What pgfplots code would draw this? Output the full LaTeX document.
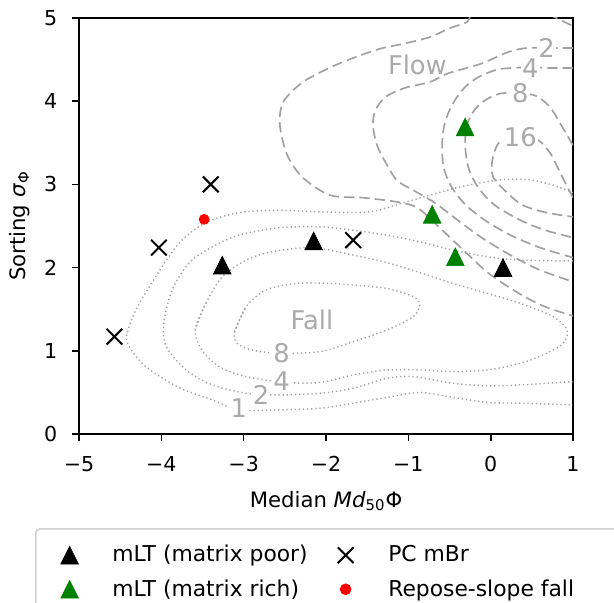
\documentclass[border=0pt]{standalone}
\usepackage{fontspec}
\setmainfont{DejaVu Sans}
\usepackage{pgfplots}
\pgfplotsset{compat=1.18}
\definecolor{cgray}{RGB}{160,160,160}
\definecolor{lgray}{RGB}{170,170,170}
\definecolor{mplgreen}{RGB}{0,128,0}
\definecolor{legframe}{RGB}{210,210,210}
\pgfdeclareplotmark{mpltri}{%
  \pgfpathmoveto{\pgfqpoint{0pt}{\pgfplotmarksize}}%
  \pgfpathlineto{\pgfqpoint{-\pgfplotmarksize}{-\pgfplotmarksize}}%
  \pgfpathlineto{\pgfqpoint{\pgfplotmarksize}{-\pgfplotmarksize}}%
  \pgfpathclose\pgfusepathqfillstroke}
\pgfplotsset{
  fallc/.style={cgray, line width=0.7pt, dash pattern=on 0.6pt off 1.4pt, smooth, tension=0.5, forget plot},
  flowc/.style={cgray, line width=0.8pt, dash pattern=on 5pt off 2.5pt, smooth, tension=0.5, forget plot},
}
\tikzset{clab/.style={text=lgray, fill=white, inner sep=0.6pt, font=\fontsize{12.5}{14}\selectfont}}
\begin{document}
\begin{tikzpicture}
\begin{axis}[
  scale only axis, width=239.79pt, height=201.93pt,
  xmin=-5, xmax=1, ymin=0, ymax=5,
  xtick={-5,-4,-3,-2,-1,0,1}, xticklabels={−5,−4,−3,−2,−1,0,1},
  ytick={0,1,2,3,4,5},
  xtick pos=bottom, ytick pos=left,
  tick align=outside, major tick length=3.5pt,
  every tick/.style={black, line width=0.8pt},
  axis line style={line width=0.8pt},
  /pgf/number format/assume math mode=true,
  tick label style={font=\fontsize{10}{12}\selectfont},
  xticklabel style={yshift=-3.8pt},
  yticklabel style={xshift=-3.5pt},
  label style={font=\fontsize{10.3}{12}\selectfont},
  xlabel={Median \textit{Md}\textsubscript{50}Φ},
  ylabel={Sorting \textit{σ}\textsubscript{Φ}},
  xlabel style={at={(axis description cs:0.5,-0.1755)}, anchor=base},
  ylabel style={at={(axis description cs:-0.109,0.5)}, anchor=base},
  legend columns=2,
  legend cell align=left,
  legend image code/.code={%
    \path (-16pt,0pt) (18.3pt,0pt);
    \draw[mark repeat=1] plot coordinates {(0pt,0pt)};
  },
  legend style={at={(axis description cs:-0.089,-0.226)}, anchor=north west,
    draw=legframe, rounded corners=2pt, line width=0.8pt,
    font=\fontsize{10.6}{12.5}\selectfont,
    /tikz/every even column/.append style={column sep=0pt},
    row sep=3pt, inner xsep=0pt, inner ysep=6pt},
]
\coordinate (SW) at (rel axis cs:0,0);
\coordinate (NE) at (rel axis cs:1,1);
% Fall contours (dotted)
\addplot[fallc] coordinates {(1.00,2.90) (0.76,2.99) (0.44,3.06) (0.08,3.05) (-0.37,2.97) (-0.74,2.87) (-1.06,2.78) (-1.47,2.67) (-2.07,2.67) (-2.57,2.69) (-3.06,2.66) (-3.46,2.54) (-3.78,2.30) (-4.07,1.89) (-4.31,1.49) (-4.42,1.19) (-4.39,1.05) (-4.19,0.81) (-3.79,0.56) (-3.38,0.41) (-3.06,0.29) (-2.56,0.29) (-2.07,0.31) (-1.67,0.37) (-1.26,0.44) (-0.86,0.50) (-0.46,0.44) (-0.04,0.38) (0.36,0.37) (1.00,0.35)};
\addplot[fallc] coordinates {(1.00,2.08) (0.36,2.09) (-0.04,2.13) (-0.46,2.21) (-0.86,2.31) (-1.26,2.39) (-1.67,2.45) (-2.07,2.49) (-2.57,2.48) (-3.06,2.39) (-3.38,2.25) (-3.66,2.06) (-3.87,1.73) (-3.97,1.33) (-3.94,1.05) (-3.70,0.77) (-3.38,0.59) (-2.97,0.49) (-2.56,0.47) (-2.07,0.49) (-1.67,0.55) (-1.26,0.67) (-0.94,0.69) (-0.46,0.61) (-0.04,0.58) (0.36,0.59) (1.00,0.63)};
\addplot[fallc] coordinates {(-3.59,1.25) (-3.46,1.57) (-3.26,1.89) (-2.97,2.09) (-2.66,2.19) (-2.17,2.24) (-1.67,2.15) (-1.26,2.06) (-0.86,1.94) (-0.46,1.81) (-0.04,1.69) (0.36,1.57) (0.76,1.41) (0.93,1.25) (0.88,1.09) (0.68,0.97) (0.36,0.85) (-0.04,0.77) (-0.46,0.75) (-0.86,0.77) (-1.26,0.77) (-1.67,0.71) (-2.07,0.62) (-2.49,0.62) (-2.97,0.69) (-3.30,0.81) (-3.51,1.01) (-3.59,1.25) (-3.46,1.57)};
\addplot[fallc] coordinates {(-3.11,1.23) (-2.97,1.53) (-2.73,1.73) (-2.36,1.81) (-1.96,1.81) (-1.67,1.79) (-1.26,1.75) (-0.94,1.65) (-0.86,1.55) (-0.94,1.41) (-1.26,1.25) (-1.67,1.11) (-2.07,0.99) (-2.57,0.97) (-2.90,1.01) (-3.08,1.09) (-3.11,1.23) (-2.97,1.53)};
% Flow contours (dashed)
\addplot[flowc] coordinates {(0.70,5.05) (0.88,4.96) (1.05,4.88)};
\addplot[flowc] coordinates {(-0.25,5.03) (-0.29,4.95) (-0.49,4.88) (-0.74,4.77) (-1.06,4.69) (-1.38,4.62) (-1.87,4.44) (-2.28,4.23) (-2.52,3.99) (-2.56,3.71) (-2.47,3.35) (-2.28,3.08) (-1.95,2.87) (-1.55,2.84) (-1.14,2.79) (-0.89,2.72) (-0.62,2.48) (-0.31,2.19) (-0.01,1.92) (0.36,1.68) (0.66,1.53) (1.00,1.42)};
\addplot[flowc] coordinates {(1.00,4.64) (0.68,4.64) (0.44,4.64) (0.21,4.59) (-0.09,4.46) (-0.29,4.40) (-0.53,4.33) (-0.74,4.23) (-1.04,4.16) (-1.28,4.05) (-1.40,3.89) (-1.43,3.71) (-1.38,3.47) (-1.28,3.27) (-1.14,3.05) (-0.94,2.93) (-0.68,2.78) (-0.40,2.57) (-0.11,2.36) (0.24,2.15) (0.60,1.97) (1.00,1.83)};
\addplot[flowc] coordinates {(1.00,4.40) (0.68,4.40) (0.48,4.41) (0.27,4.40) (0.08,4.38) (-0.13,4.30) (-0.29,4.19) (-0.41,4.05) (-0.51,3.87) (-0.57,3.68) (-0.59,3.45) (-0.57,3.20) (-0.47,2.96) (-0.30,2.75) (-0.07,2.57) (0.24,2.39) (0.60,2.24) (1.00,2.12)};
\addplot[flowc] coordinates {(1.00,3.47) (0.84,3.74) (0.72,3.93) (0.56,4.06) (0.36,4.10) (0.11,4.09) (-0.07,4.01) (-0.20,3.89) (-0.29,3.71) (-0.31,3.47) (-0.27,3.20) (-0.15,2.96) (0.05,2.75) (0.36,2.57) (0.66,2.45) (1.00,2.36)};
\addplot[flowc] coordinates {(1.00,2.84) (0.90,3.03) (0.81,3.21) (0.72,3.38) (0.58,3.53) (0.36,3.57) (0.11,3.51) (0.02,3.29) (0.03,3.09) (0.20,2.90) (0.39,2.75) (0.68,2.66) (1.00,2.61)};
% contour labels
\node[clab] at (axis cs:-3.06,0.31) {1};
\node[clab] at (axis cs:-2.79,0.47) {2};
\node[clab] at (axis cs:-2.54,0.63) {4};
\node[clab] at (axis cs:-2.54,0.97) {8};
\node[clab] at (axis cs:0.68,4.64) {2};
\node[clab] at (axis cs:0.48,4.40) {4};
\node[clab] at (axis cs:0.36,4.10) {8};
\node[clab] at (axis cs:0.36,3.57) {16};
\node[text=lgray, font=\fontsize{12.5}{14}\selectfont] at (axis cs:-2.17,1.37) {Fall};
\node[text=lgray, font=\fontsize{12.5}{14}\selectfont] at (axis cs:-0.89,4.44) {Flow};
% data
\addplot[only marks, mark=mpltri, mark size=4.3pt, mark options={fill=black, draw=black, line width=0.3pt}] coordinates {(-3.26,2.03) (-2.15,2.32) (0.15,2.00)};
\addlegendentry{mLT (matrix poor)}
\addplot[only marks, mark=x, mark size=5.4pt, mark options={line width=1pt}, black] coordinates {(-4.57,1.17) (-4.03,2.24) (-3.40,3.00) (-1.67,2.33)};
\addlegendentry{\makebox[140pt][l]{PC mBr}}
\addplot[only marks, mark=mpltri, mark size=4.3pt, mark options={fill=mplgreen, draw=mplgreen, line width=0.3pt}] coordinates {(-0.31,3.69) (-0.71,2.64) (-0.43,2.13)};
\addlegendentry{mLT (matrix rich)}
\addplot[only marks, mark=*, mark size=2.4pt, mark options={fill=red, draw=red}] coordinates {(-3.48,2.58)};
\addlegendentry{Repose-slope fall}
\end{axis}
\pgfresetboundingbox
\path[use as bounding box] ([xshift=-38.35pt,yshift=-82.03pt]SW) rectangle ([xshift=19.90pt,yshift=8.74pt]NE);
\end{tikzpicture}
\end{document}
